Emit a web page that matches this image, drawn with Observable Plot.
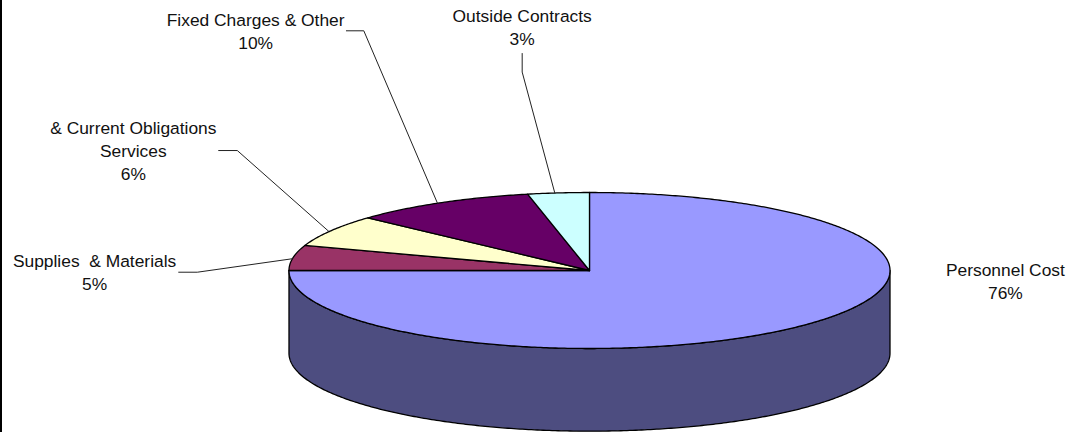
<!DOCTYPE html>
<html>
<head>
<meta charset="utf-8">
<script src="https://cdn.jsdelivr.net/npm/d3@7"></script>
<script src="https://cdn.jsdelivr.net/npm/@observablehq/plot@0.6"></script>
<style>
html,body{margin:0;padding:0;background:#fff;overflow:hidden}
svg{display:block}
</style>
</head>
<body>
<div id="chart"></div>
<script>
// Data (clockwise from 12 o'clock)
const categories = ["Personnel Cost", "Supplies  & Materials", "& Current Obligations\nServices", "Fixed Charges & Other", "Outside Contracts"];
const sliceShares = [75, 5.2, 6.6, 9.9, 3.3];
const printedLabels = ["76%", "5%", "6%", "10%", "3%"];
const sliceColors = ["#9999ff", "#993366", "#ffffcc", "#660066", "#ccffff"];
const sideColor = "#4d4d80";

// Layout in pie-radius units (x: horizontal radii, y: vertical radii from the centre)
const labelX = [1.384, -1.647, -1.518, -1.111, -0.224];
const labelY = [-0.147, -0.032, 1.526, 3.058, 3.109];
const leaderElbow = [null, [-1.305, -0.022], [-1.172, 1.538], [-0.751, 3.073], [-0.224, 2.544]];
const leaderEnd = [null, [-1.367, -0.022], [-1.234, 1.538], [-0.809, 3.073], [-0.224, 2.782]];
const leaderNudge = 0.012; // leaders meet the rim just past each slice's middle
const depth = 1.06;

const total = d3.sum(sliceShares);
const toAngle = (share) => (share / total) * 2 * Math.PI;
const onRim = (a, drop = 0) => [Math.sin(a), Math.cos(a) - drop];
const arcSteps = (a0, a1) => {
  const n = Math.max(2, Math.ceil((a1 - a0) / 0.01));
  return d3.range(n + 1).map((i) => a0 + ((a1 - a0) * i) / n);
};

// Slice polygons, from the shares
let cum = 0;
const slicePoints = [];
const leaderPoints = [];
sliceShares.forEach((share, i) => {
  const a0 = toAngle(cum), a1 = toAngle(cum + share);
  cum += share;
  slicePoints.push({s: i, p: [0, 0]});
  arcSteps(a0, a1).forEach((a) => slicePoints.push({s: i, p: onRim(a)}));
  slicePoints.push({s: i, p: [0, 0]});
  if (leaderElbow[i]) {
    [onRim((a0 + a1) / 2 - leaderNudge), leaderElbow[i], leaderEnd[i]].forEach((p) => leaderPoints.push({s: i, p}));
  }
});

// Cylinder wall: front half of the rim, dropped by the depth
const front = arcSteps(Math.PI / 2, 3 * Math.PI / 2);
const wallPoints = [...front.map((a) => onRim(a)), ...front.slice().reverse().map((a) => onRim(a, depth))];

const xDomain = [-1.96, 1.594];
const yDomain = [-2.077, 3.4615];

const chart = Plot.plot({
  width: 1068,
  height: 432,
  margin: 0,
  x: {domain: xDomain, range: [0, 1068], axis: null},
  y: {domain: yDomain, range: [432, 0], axis: null},
  style: {background: "#fff", fontFamily: "'Liberation Sans', Arial, sans-serif"},
  marks: [
    Plot.ruleX([xDomain[0]], {stroke: "#000", strokeWidth: 3}),
    Plot.line(wallPoints, {x: (d) => d[0], y: (d) => d[1], fill: sideColor, stroke: "#000", strokeWidth: 1.3, curve: "linear-closed"}),
    Plot.line(slicePoints, {x: (d) => d.p[0], y: (d) => d.p[1], z: "s", fill: (d) => sliceColors[d.s], stroke: "#000", strokeWidth: 1.3, curve: "linear-closed"}),
    Plot.line(leaderPoints, {x: (d) => d.p[0], y: (d) => d.p[1], z: "s", stroke: "#222", strokeWidth: 1}),
    Plot.text(categories, {
      x: (d, i) => labelX[i],
      y: (d, i) => labelY[i],
      text: (d, i) => `${d}\n${printedLabels[i]}`,
      fontSize: 17.4,
      lineHeight: 1.31,
      dy: -2,
      fill: "#111",
      textAnchor: "middle",
      lineAnchor: "middle"
    })
  ]
});
document.getElementById("chart").append(chart);
</script>
</body>
</html>
